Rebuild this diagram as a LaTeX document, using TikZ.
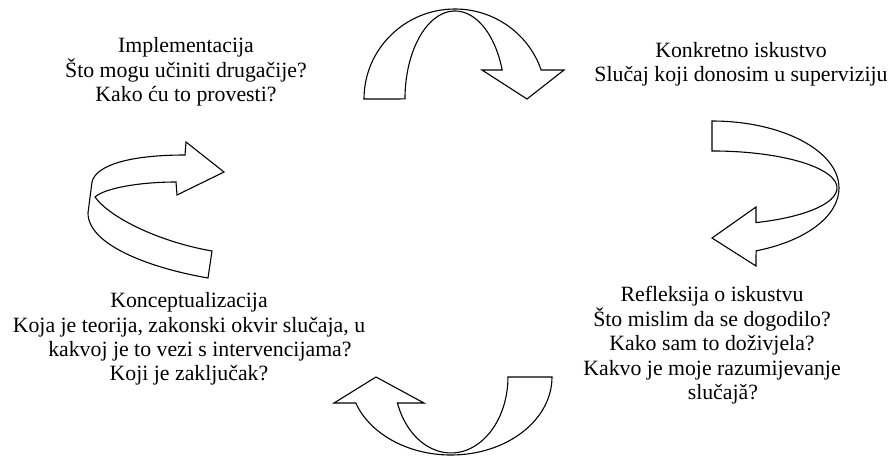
\documentclass[tikz,border=0pt]{standalone}
\usepackage{fontspec}
\setmainfont{Liberation Serif}
\tikzset{
  ribbon/.style={draw=black, line width=0.55pt, fill=white},
  stage/.style={align=center, inner sep=0pt, font=\fontsize{10.9}{12.25}\selectfont}
}

\begin{document}
\begin{tikzpicture}[x=0.5pt, y=-0.5pt]
	%%%%% START %%%%%
	\useasboundingbox (0,0) rectangle (895,456);

	% top arrow
	\draw[ribbon] (364,99) arc[start angle=180, end angle=341.2, x radius=91, y radius=90]
		-- (564,70) -- (527,99) -- (482,70)
		-- (502.2,70) arc[start angle=340.8, end angle=180, x radius=50, y radius=88] -- cycle;

	% right arrow
	\draw[ribbon] (712,121) arc[start angle=270, end angle=429.7, x radius=127, y radius=67]
		-- (756,266) -- (712,238) -- (756,207)
		-- (756,222.6) arc[start angle=429.4, end angle=270, x radius=125, y radius=37] -- cycle;

	% bottom arrow
	\draw[ribbon] (552,377) arc[start angle=0, end angle=160.5, x radius=101, y radius=78]
		-- (334,403) -- (376,377) -- (424,403)
		-- (397.4,403) arc[start angle=160, end angle=0, x radius=57, y radius=76] -- cycle;

	% left arrow
	\draw[ribbon] (208,278) .. controls (150,268) and (88,245) .. (88,213)
		-- (92,182) .. controls (96,165) and (130,155) .. (185,155)
		-- (186,142) -- (224,172) -- (177,195) -- (176,182)
		.. controls (140,182) and (105,188) .. (95,197)
		.. controls (110,218) and (160,242) .. (212,251) -- cycle;

	\node[stage] (impl) at (186,72) {Implementacija\\Što mogu učiniti drugačije?\\Kako ću to provesti?};
	\node[stage] (konk) at (741,64.5) {Konkretno iskustvo\\Slučaj koji donosim u superviziju};
	\node[stage] (refl) at (712,345.5) {Refleksija o iskustvu\\Što mislim da se dogodilo?\\Kako sam to doživjela?\\Kakvo je moje razumijevanje\\\hspace*{1em}slučajǎ?};
	\node[stage] (konc) at (189,339) {Konceptualizacija\\Koja je teorija, zakonski okvir slučaja, u\\\hspace*{1em}kakvoj je to vezi s intervencijama?\\Koji je zaključak?};

	%%%%% END %%%%%
\end{tikzpicture}
\end{document}
